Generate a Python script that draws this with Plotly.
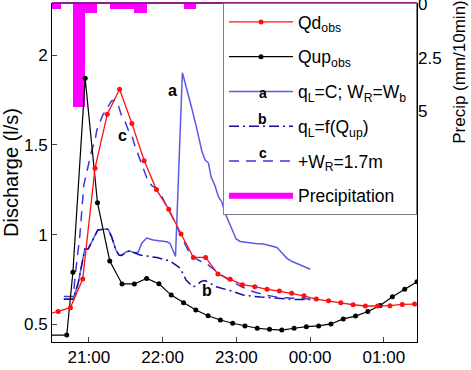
import plotly.graph_objects as go
import pandas as pd

# ---------------- data (times in minutes after 21:00) ----------------
qd_t = [-35, -25, -15, -5, 5, 15, 25, 35, 45, 55, 65, 75, 85, 95, 105, 115, 125, 135,
        145, 155, 165, 175, 185, 195, 205, 215, 225, 235, 245, 255, 265]
qd_q = [0.552, 0.571, 0.593, 0.752, 1.37, 1.671, 1.81, 1.62, 1.412, 1.251,
        1.141, 1.003, 0.873, 0.873, 0.78, 0.751,
        0.721, 0.71, 0.695, 0.685, 0.673, 0.659,
        0.641, 0.632, 0.62, 0.609, 0.602, 0.602,
        0.604, 0.611, 0.613]

qup_t = [-33, -18, -13, -3, 7, 17, 27, 37, 47, 57, 67, 77, 87, 97, 107, 117, 127, 137,
         147, 157, 167, 177, 187, 197, 207, 217, 227, 237, 247, 257, 267]
qup_q = [0.44, 0.44, 0.79, 1.871, 1.178, 0.853, 0.725, 0.725, 0.756, 0.726,
         0.663, 0.62, 0.58, 0.548, 0.524, 0.506, 0.491, 0.478, 0.472, 0.468,
         0.478, 0.487, 0.491, 0.502, 0.53, 0.546, 0.571, 0.605, 0.654, 0.695, 0.737]

a_t = [-20.4, -12.8, -8.7, -3.3, -0.6, 3.5, 7.3, 11.7, 15.7, 18.5, 22, 24.5, 26.7, 30.7, 33.4,
       37.5, 40.2, 43, 47, 52.4, 57.9, 63.3, 66, 68.7, 70.5, 76.1, 79.6, 83.7, 87.8, 91.9,
       94.6, 97.3, 99.5, 102.7, 105.4, 108.2, 110.9, 116.3, 119.8, 123.1, 128.6, 135.3,
       142.1, 147.6, 153, 155.7, 161.2, 165.5, 170.6, 175.3, 180.2]
a_q = [0.64, 0.64, 0.729, 0.92, 0.92, 0.98, 1.026, 1.03, 1.03, 0.988, 0.914, 0.886, 0.884, 0.905, 0.909,
       0.898, 0.903, 0.952, 0.981, 0.97, 0.967, 0.96, 0.952, 0.903, 0.878, 1.902, 1.817, 1.706, 1.591, 1.466,
       1.416, 1.399, 1.321, 1.271, 1.211, 1.182, 1.119, 1.026, 0.976, 0.962, 0.955, 0.95,
       0.948, 0.939, 0.928, 0.909, 0.868, 0.85, 0.836, 0.819, 0.807]

b_t = [-20.4, -12.8, -8.7, -3.3, -0.6, 3.5, 7.3, 11.7, 15.7, 18.5, 22, 24.5, 26.7, 30.7, 33.4,
       41.6, 55.4, 66, 74.2, 79.1, 84.8, 88, 91.3, 94.6, 98.7, 104.3, 114.9, 125.5, 139.4,
       155.7, 168.7, 180.2]
b_q = [0.64, 0.64, 0.729, 0.92, 0.92, 0.98, 1.026, 1.03, 1.03, 0.988, 0.914, 0.886, 0.884, 0.905, 0.909,
       0.886, 0.872, 0.853, 0.814, 0.747, 0.708, 0.719, 0.739, 0.744, 0.727, 0.708, 0.688, 0.663, 0.652,
       0.644, 0.638, 0.638]

c_t = [-20.4, -12.8, -10.6, -7.3, -4.1, -1.6, 2.4, 4.9, 6.5, 11.4, 15.5, 18.5, 21.2, 23.6, 26.7,
       29.3, 32, 35.1, 37.5, 41.6, 45.7, 48.1, 51.4, 54.6, 57.1, 59.5, 63.6, 70.1, 75, 80.7,
       84.8, 90.5, 96.2, 104.3, 114.1, 124.7, 134.5, 145.1, 155.7, 167.9, 180.2]
c_q = [0.655, 0.655, 0.803, 0.998, 1.276, 1.349, 1.472, 1.522, 1.583, 1.667, 1.717, 1.745, 1.75, 1.728, 1.661,
       1.633, 1.583, 1.55, 1.494, 1.416, 1.343, 1.299, 1.271, 1.26, 1.237, 1.21, 1.154, 1.07, 0.992, 0.914,
       0.875, 0.853, 0.836, 0.792, 0.747, 0.708, 0.68, 0.661, 0.649, 0.644, 0.641]

precip_t = [-28, -8, 2, 22, 32, 42, 82]      # 10-min bin centres
precip_v = [0.2, 4.8, 0.4, 0.2, 0.2, 0.4, 0.2]

x_ticks = [0, 60, 120, 180, 240]
x_tick_labels = ["21:00", "22:00", "23:00", "00:00", "01:00"]
y_ticks = [0.5, 1, 1.5, 2]
y_tick_labels = ["0.5", "1", "1.5", "2"]
p_ticks = [0, 2.5, 5]
p_tick_labels = ["0", "2.5", "5"]

BASE = pd.Timestamp("2012-06-01 21:00")


def T(mins):
    return [BASE + pd.Timedelta(minutes=m) for m in mins]


FONT = "Liberation Sans, Arial, sans-serif"

fig = go.Figure()

fig.add_trace(go.Bar(x=T(precip_t), y=precip_v, width=600000, marker=dict(color="#ff00ff", line=dict(width=0)),
                     yaxis="y", showlegend=False, name="Precipitation"))

fig.add_trace(go.Scatter(x=T(a_t), y=a_q, mode="lines", yaxis="y2",
                         name="q<sub>L</sub>=C; W<sub>R</sub>=W<sub>b</sub>&nbsp;",
                         line=dict(color="#5a5ae8", width=1.5), legendgroup="a", legendrank=3))
fig.add_trace(go.Scatter(x=T(b_t), y=b_q, mode="lines", yaxis="y2", name="q<sub>L</sub>=f(Q<sub>up</sub>)",
                         line=dict(color="#10109c", width=1.5, dash="10px,4px,2px,4px"), legendgroup="b", legendrank=4))
fig.add_trace(go.Scatter(x=T(c_t), y=c_q, mode="lines", yaxis="y2", name="+W<sub>R</sub>=1.7m",
                         line=dict(color="#3a3ae0", width=1.5, dash="10px,7px"), legendgroup="c", legendrank=5))
fig.add_trace(go.Scatter(x=T(qup_t), y=qup_q, mode="lines+markers", yaxis="y2", name="Qup<sub>obs</sub>",
                         line=dict(color="black", width=1.2), marker=dict(color="black", size=5),
                         legendgroup="qup", legendrank=2))
fig.add_trace(go.Scatter(x=T(qd_t), y=qd_q, mode="lines+markers", yaxis="y2", name="Qd<sub>obs</sub>",
                         line=dict(color="#ff1010", width=1.3), marker=dict(color="#ff1010", size=5),
                         legendgroup="qd", legendrank=1))
fig.add_trace(go.Scatter(x=[None], y=[None], mode="lines", yaxis="y2", name="Precipitation",
                         line=dict(color="#ff00ff", width=6), legendgroup="p", legendrank=6))

fig.update_layout(
    width=471, height=370,
    margin=dict(l=52, r=54, t=3, b=28, autoexpand=False),
    paper_bgcolor="white", plot_bgcolor="white",
    font=dict(family=FONT, size=17, color="black"),
    bargap=0,
    xaxis=dict(range=[BASE + pd.Timedelta(minutes=-30), BASE + pd.Timedelta(minutes=267)],
               tickvals=T(x_ticks), ticktext=x_tick_labels, ticks="inside", ticklen=5,
               showline=True, linecolor="black", linewidth=1, showgrid=False, zeroline=False,
               anchor="y", automargin=False),
    yaxis=dict(range=[15.84, -0.06], side="right", tickvals=p_ticks, ticktext=p_tick_labels,
               ticks="", showgrid=False, zeroline=False, showline=False,
               ticklabeloverflow="allow", automargin=False),
    yaxis2=dict(overlaying="y", side="left", range=[0.4014, 2.291], tickvals=y_ticks,
                ticktext=y_tick_labels, ticks="inside", ticklen=5,
                showline=True, mirror=True, linecolor="black", linewidth=1,
                showgrid=False, zeroline=False, automargin=False,
                title=dict(text="Discharge (l/s)", standoff=4)),
    legend=dict(x=1, xanchor="right", y=1, yanchor="top", bgcolor="white", bordercolor="#808080",
                borderwidth=1, font=dict(size=17.5), itemwidth=64, tracegroupgap=9, traceorder="grouped"),
    showlegend=True,
)

fig.add_shape(type="line", xref="paper", yref="paper", x0=0, x1=1, y0=1, y1=1,
              line=dict(color="#8a208a", width=2))

fig.add_annotation(text="Precip (mm/10min)", textangle=-90, xref="paper", yref="paper",
                   x=1.116, y=0.798, showarrow=False, xanchor="center", yanchor="middle",
                   font=dict(size=17))

# curve labels inside plot
for lab, tm, q in [("a", 68, 1.806), ("c", 27, 1.555), ("b", 96, 0.691)]:
    fig.add_annotation(text="<b>%s</b>" % lab, x=BASE + pd.Timedelta(minutes=tm), y=q, yref="y2",
                       showarrow=False, font=dict(size=16))
# labels above legend samples
for lab, yp in [("a", 0.763), ("b", 0.657), ("c", 0.557)]:
    fig.add_annotation(text="<b>%s</b>" % lab, xref="paper", yref="paper", x=0.577, y=yp,
                       showarrow=False, font=dict(size=14))

fig.write_html("out.html")
